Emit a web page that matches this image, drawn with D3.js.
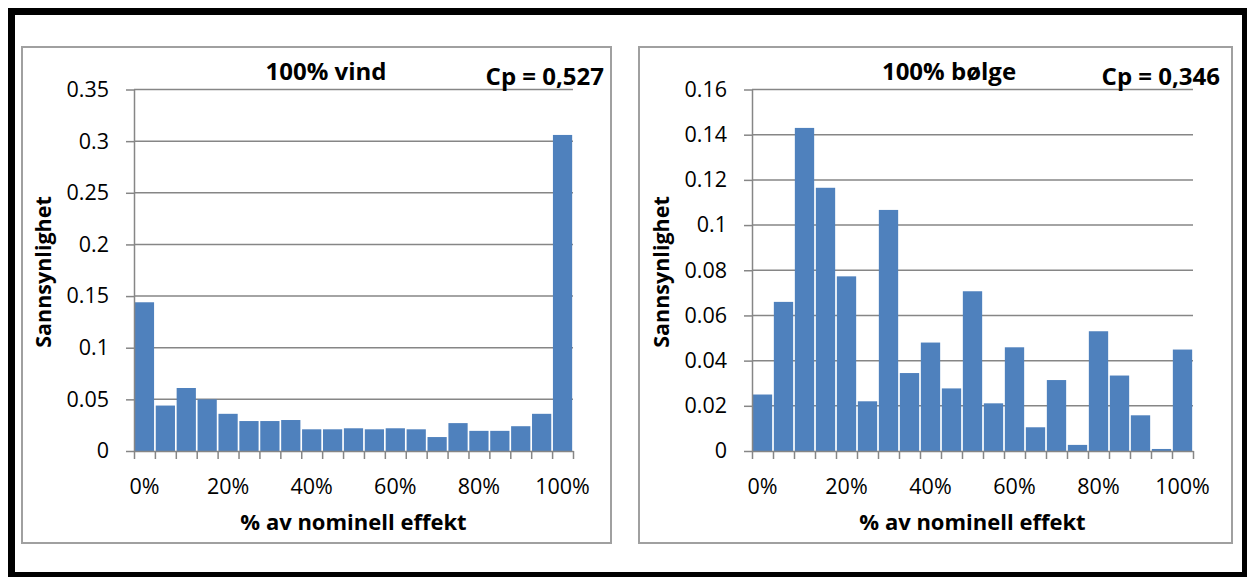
<!DOCTYPE html>
<html>
<head>
<meta charset="utf-8">
<script src="https://cdn.jsdelivr.net/npm/d3@7"></script>
<style>
  body { margin: 0; background: #fff; }
  text { font-family: "Open Sans", "Noto Sans", sans-serif; fill: #000; }
  .axis path, .axis line { stroke: #868686; stroke-width: 1.5; }
  .axis text { font-size: 21.5px; }
  .bold { font-weight: bold; }
</style>
</head>
<body>
<div id="chart"></div>
<script>
// Categories: % of nominal power, 0% .. 100% in 5% steps
var categories = ["0%", "5%", "10%", "15%", "20%", "25%", "30%", "35%", "40%", "45%", "50%",
                  "55%", "60%", "65%", "70%", "75%", "80%", "85%", "90%", "95%", "100%"];
var xTickLabels = ["0%", "20%", "40%", "60%", "80%", "100%"];

// Probability per category
var vindValues = [0.144, 0.044, 0.061, 0.050, 0.036, 0.029, 0.029, 0.030, 0.021, 0.021, 0.022,
                  0.021, 0.022, 0.021, 0.0135, 0.027, 0.0195, 0.0195, 0.024, 0.036, 0.306];
var bolgeValues = [0.025, 0.066, 0.143, 0.1165, 0.0773, 0.022, 0.1067, 0.0345, 0.048, 0.0277, 0.0707,
                   0.0211, 0.0459, 0.0105, 0.0314, 0.0027, 0.053, 0.0334, 0.0158, 0.0009, 0.0449];

var vindYTicks = [0, 0.05, 0.1, 0.15, 0.2, 0.25, 0.3, 0.35];
var bolgeYTicks = [0, 0.02, 0.04, 0.06, 0.08, 0.1, 0.12, 0.14, 0.16];

var W = 1247, H = 577;

var svg = d3.select("#chart")
  .append("svg")
  .attr("width", W)
  .attr("height", H);

// outer black frame
svg.append("rect")
  .attr("x", 11.5).attr("y", 11.5)
  .attr("width", 1234).attr("height", 564)
  .attr("fill", "none")
  .attr("stroke", "#000")
  .attr("stroke-width", 7);

function drawChart(cfg) {
  // panel border
  svg.append("rect")
    .attr("x", cfg.panel[0]).attr("y", 47)
    .attr("width", cfg.panel[1] - cfg.panel[0]).attr("height", 496)
    .attr("fill", "#fff")
    .attr("stroke", "#a0a0a0")
    .attr("stroke-width", 2);

  var x = d3.scaleBand()
    .domain(categories)
    .range([cfg.left, cfg.right])
    .paddingInner(0.08)
    .paddingOuter(0.04);

  // category boundaries for the tick marks
  var xb = d3.scaleLinear()
    .domain([0, categories.length])
    .range([cfg.left, cfg.right]);

  var y = d3.scaleLinear()
    .domain([0, cfg.yMax])
    .range([451, 89.5]);

  // gridlines
  svg.append("g")
    .selectAll("line")
    .data(cfg.yTicks.slice(1))
    .enter()
    .append("line")
    .attr("x1", cfg.left).attr("x2", cfg.right)
    .attr("y1", d => y(d)).attr("y2", d => y(d))
    .attr("stroke", "#868686")
    .attr("stroke-width", 1.5);

  // bars
  svg.append("g")
    .selectAll("rect")
    .data(cfg.values)
    .enter()
    .append("rect")
    .attr("x", (d, i) => x(categories[i]))
    .attr("width", x.bandwidth())
    .attr("y", d => y(d))
    .attr("height", d => 451 - y(d))
    .attr("fill", "#4f81bd");

  // y axis
  var yAxis = svg.append("g")
    .attr("class", "axis")
    .attr("transform", "translate(" + cfg.left + ",0)")
    .call(d3.axisLeft(y).tickValues(cfg.yTicks).tickFormat(d => String(d)).tickSize(8).tickPadding(17).tickSizeOuter(0));

  // x axis tick marks at category boundaries
  svg.append("g")
    .attr("class", "axis")
    .attr("transform", "translate(0,451)")
    .call(d3.axisBottom(xb).tickValues(d3.range(categories.length + 1)).tickFormat("").tickSize(8).tickSizeOuter(0));

  // x labels every 20%
  var xl = svg.append("g")
    .attr("class", "axis")
    .attr("transform", "translate(0,451)")
    .call(d3.axisBottom(x).tickValues(xTickLabels).tickSize(0));
  xl.select(".domain").remove();
  xl.selectAll("text").attr("y", 43).attr("dy", 0);

  // titles
  svg.append("text")
    .attr("class", "bold")
    .attr("x", cfg.titleX).attr("y", 80)
    .attr("text-anchor", "middle")
    .style("font-size", "24px")
    .text(cfg.title);

  svg.append("text")
    .attr("class", "bold")
    .attr("x", cfg.cpX).attr("y", 85)
    .attr("text-anchor", "end")
    .style("font-size", "24px")
    .text(cfg.cp);

  svg.append("text")
    .attr("class", "bold")
    .attr("x", (cfg.left + cfg.right) / 2).attr("y", 530)
    .attr("text-anchor", "middle")
    .style("font-size", "22px")
    .text("% av nominell effekt");

  svg.append("text")
    .attr("class", "bold")
    .attr("transform", "translate(" + cfg.yLabelX + ",272) rotate(-90)")
    .attr("text-anchor", "middle")
    .style("font-size", "21.5px")
    .text("Sannsynlighet");
}

drawChart({
  panel: [22, 611], left: 134, right: 573,
  values: vindValues, yMax: 0.35, yTicks: vindYTicks,
  title: "100% vind", titleX: 326, cp: "Cp = 0,527", cpX: 604, yLabelX: 51
});

drawChart({
  panel: [639, 1232], left: 752, right: 1193,
  values: bolgeValues, yMax: 0.16, yTicks: bolgeYTicks,
  title: "100% bølge", titleX: 949, cp: "Cp = 0,346", cpX: 1220, yLabelX: 669
});
</script>
</body>
</html>
